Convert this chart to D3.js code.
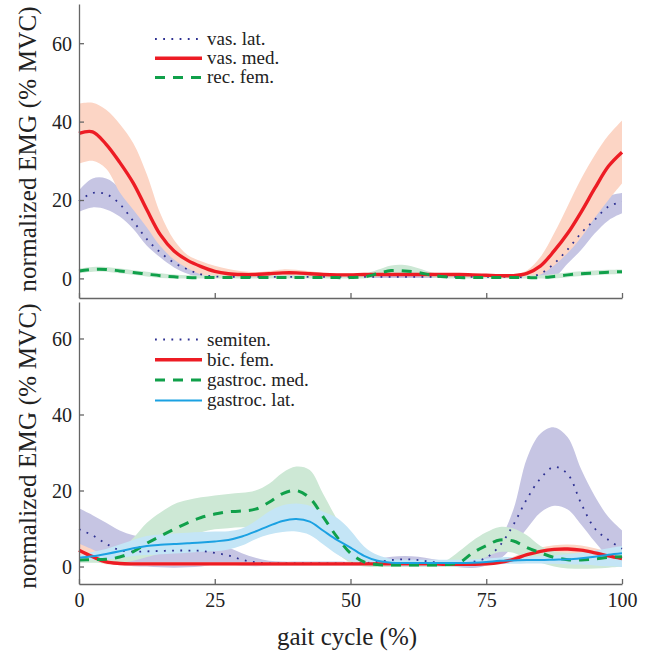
<!DOCTYPE html>
<html>
<head>
<meta charset="utf-8">
<script src="https://cdn.jsdelivr.net/npm/d3@7"></script>
<style>
  body { margin: 0; background: #fff; }
  text { font-family: "Liberation Serif", "Times New Roman", serif; fill: #222; }
</style>
</head>
<body>
<svg width="657" height="656"></svg>
<script>
// gait cycle grid, 2.5 % steps
const gait = d3.range(0, 100.01, 2.5);

// top panel: quadriceps
const vasLatMean = [19.7,21.8,21.5,19.0,14.6,10.0,6.6,4.0,2.3,1.0,0.5,0.4,0.4,0.4,0.4,0.4,0.4,0.4,0.4,0.4,0.4,0.4,0.4,0.4,0.4,0.4,0.4,0.4,0.4,0.4,0.4,0.4,0.4,0.3,1.2,3.8,7.4,11.6,15.0,18.3,19.5];
const vasLatHi   = [22.5,25.5,25.5,23.0,18.5,13.5,9.5,6.5,4.0,2.0,1.0,0.8,0.8,0.8,0.8,0.8,0.8,0.8,0.8,0.8,0.8,0.8,0.8,0.8,0.8,0.8,0.8,0.8,0.8,0.8,0.8,0.8,0.8,0.8,2.5,6.5,11.0,15.8,19.2,21.1,21.8];
const vasLatLo   = [17.0,18.1,17.6,15.8,12.6,8.3,5.3,2.8,1.2,0.3,0.2,0.1,0.1,0.1,0.1,0.1,0.1,0.1,0.1,0.1,0.1,0.1,0.1,0.1,0.1,0.1,0.1,0.1,0.1,0.1,0.1,0.1,0.1,0.1,0.1,0.3,3.8,7.3,11.5,14.8,16.6];

const vasMedMean = [37.0,37.4,34.2,29.6,24.3,17.5,11.1,7.0,4.6,3.0,1.8,1.2,1.0,1.0,1.2,1.4,1.4,1.2,1.0,0.9,0.9,1.0,1.0,1.0,1.0,1.0,1.0,1.0,1.0,0.9,0.8,0.7,0.7,1.3,3.2,7.0,11.5,17.0,23.0,28.6,32.2];
const vasMedHi   = [44.6,44.8,43.0,39.4,34.5,26.5,16.5,9.8,6.0,4.4,3.2,2.4,1.8,1.6,1.9,2.3,2.2,1.8,1.4,1.3,1.3,1.3,1.3,1.3,1.3,1.3,1.3,1.3,1.3,1.2,1.1,1.0,1.0,2.0,5.5,11.5,18.5,25.5,31.5,36.5,40.3];
const vasMedLo   = [29.3,30.0,28.0,22.0,17.5,13.0,8.2,4.8,2.6,1.0,0.6,0.6,0.6,0.6,0.7,0.8,0.8,0.7,0.6,0.6,0.6,0.6,0.6,0.6,0.6,0.6,0.6,0.6,0.6,0.5,0.4,0.3,0.3,0.4,1.0,3.3,6.5,10.5,15.5,20.0,24.2];

const recFemMean = [1.9,2.3,2.3,1.9,1.5,1.1,0.7,0.4,0.2,0.2,0.2,0.2,0.2,0.2,0.2,0.2,0.2,0.2,0.2,0.2,0.2,0.4,1.2,2.0,1.9,1.5,0.8,0.4,0.2,0.2,0.2,0.2,0.2,0.2,0.2,0.5,0.9,1.2,1.4,1.6,1.7];
const recFemHi   = [2.5,2.9,2.9,2.5,2.1,1.7,1.3,1.0,0.8,0.8,0.8,0.8,0.8,0.8,0.8,0.8,0.8,0.8,0.8,0.8,0.8,1.1,2.2,3.3,3.4,2.6,1.5,1.0,0.8,0.8,0.8,0.8,0.8,0.8,0.8,1.1,1.5,1.8,2.0,2.2,2.3];
const recFemLo   = [1.3,1.7,1.7,1.3,0.9,0.5,0.1,0.0,0.0,0.0,0.0,0.0,0.0,0.0,0.0,0.0,0.0,0.0,0.0,0.0,0.0,0.0,0.4,1.0,0.9,0.6,0.2,0.0,0.0,0.0,0.0,0.0,0.0,0.0,0.0,0.0,0.3,0.6,0.8,1.0,1.1];

// bottom panel: hamstrings and calf
const semitenMean = [9.8,8.2,6.0,4.3,3.9,4.0,4.1,4.2,4.2,4.1,3.6,2.9,1.8,1.1,0.8,0.8,0.8,0.8,0.8,0.8,0.8,0.9,1.2,1.7,1.9,1.7,1.2,0.9,0.8,1.2,2.3,5.5,11.0,17.8,23.2,26.2,24.3,16.5,10.0,7.0,4.7];
const semitenHi   = [15.3,13.5,11.5,9.5,8.2,7.5,7.3,7.3,7.3,7.0,6.3,5.0,3.5,2.3,1.5,1.3,1.3,1.3,1.3,1.3,1.3,1.5,2.0,2.6,2.8,2.6,2.0,1.5,1.3,2.0,3.0,7.0,15.0,28.5,35.0,36.6,34.0,25.5,18.5,13.0,9.5];
const semitenLo   = [4.5,3.0,1.5,0.5,0.1,0.0,-0.2,-0.3,-0.2,0.0,0.5,0.5,0.2,0.1,0.2,0.2,0.2,0.2,0.2,0.2,0.2,0.3,0.4,0.7,0.9,0.7,0.4,0.2,-0.2,-0.4,0.3,2.0,5.5,10.0,14.2,16.0,15.0,11.0,6.5,2.5,0.3];

const bicFemMean = [4.3,2.6,1.2,0.8,0.7,0.7,0.7,0.7,0.7,0.7,0.7,0.7,0.7,0.7,0.7,0.7,0.7,0.7,0.7,0.7,0.7,0.7,0.7,0.7,0.7,0.7,0.7,0.6,0.6,0.6,0.7,1.1,1.9,3.1,4.0,4.5,4.6,4.3,3.6,2.8,2.1];
const bicFemHi   = [6.0,4.5,2.5,1.3,1.1,1.1,1.1,1.1,1.1,1.1,1.1,1.1,1.1,1.1,1.1,1.1,1.1,1.1,1.1,1.1,1.1,1.1,1.1,1.1,1.1,1.1,1.1,1.0,1.0,1.0,1.1,1.6,2.6,4.0,5.0,5.6,5.8,5.5,4.8,3.9,3.0];
const bicFemLo   = [2.5,1.5,0.6,0.4,0.3,0.3,0.3,0.3,0.3,0.3,0.3,0.3,0.3,0.3,0.3,0.3,0.3,0.3,0.3,0.3,0.3,0.3,0.3,0.3,0.3,0.3,0.3,0.2,0.2,0.2,0.3,0.6,1.2,2.2,3.0,3.5,3.6,3.3,2.6,1.9,1.3];

const gMedMean = [1.7,1.8,1.9,2.5,3.9,6.1,8.0,9.8,11.5,12.9,13.8,14.4,14.6,15.1,16.9,19.2,20.0,18.0,13.0,7.8,3.5,1.2,0.5,0.4,0.4,0.4,0.4,0.5,1.0,3.6,5.5,7.0,6.7,5.0,3.6,2.4,1.8,1.7,2.0,2.4,2.6];
const gMedHi   = [2.5,2.7,3.0,4.5,7.5,11.5,14.2,16.4,17.5,18.2,18.7,19.1,19.4,20.0,21.8,24.7,26.3,25.4,19.0,12.5,7.0,2.5,1.3,1.0,1.0,1.0,1.1,1.5,4.0,6.8,9.0,10.4,10.0,8.2,5.4,4.0,3.6,3.6,3.8,4.0,4.2];
const gMedLo   = [1.0,1.0,1.0,1.0,1.5,2.5,3.5,5.5,7.5,9.0,9.8,10.1,10.3,10.5,12.0,14.0,14.5,12.0,7.5,3.5,1.0,0.0,-0.1,-0.1,-0.1,-0.1,-0.1,-0.1,0.0,1.0,2.5,3.8,3.6,2.0,1.0,0.0,-0.5,-0.6,-0.5,-0.3,0.0];

const gLatMean = [2.3,2.7,3.3,4.0,4.8,5.4,5.7,5.9,6.1,6.3,6.6,7.0,7.9,9.2,10.7,12.0,12.5,11.8,9.4,7.0,5.0,2.8,1.5,1.0,0.9,0.9,0.9,0.9,0.9,1.0,1.2,1.5,1.6,1.7,1.7,1.8,1.9,2.2,2.6,3.1,3.5];
const gLatHi   = [2.9,3.8,4.6,5.8,7.0,8.0,8.4,8.7,8.9,9.1,9.2,9.3,10.0,12.0,14.5,16.1,16.6,16.0,14.4,12.8,9.5,5.3,3.0,2.0,1.8,1.8,1.8,1.8,1.8,1.9,2.1,2.4,2.5,2.6,2.7,2.9,3.2,3.6,4.2,4.8,5.4];
const gLatLo   = [1.7,1.7,1.8,2.3,2.8,3.0,3.2,3.4,3.6,3.9,4.0,4.5,5.5,7.2,8.4,9.1,9.2,8.3,5.8,3.2,1.5,0.7,0.4,0.2,0.1,0.1,0.1,0.1,0.1,0.1,0.3,0.6,0.7,0.8,0.8,0.7,0.6,0.5,0.3,0.1,-0.1];

const xTicks = [0, 25, 50, 75, 100];
const yTicks = [0, 20, 40, 60];

const styles = {
  blue:  { line: "#2e3192", band: "#c6c5e3", width: 1.8, dash: "1.8 6.4" },
  red:   { line: "#ed1c24", band: "#fcd5c5", width: 3.4, dash: null },
  green: { line: "#10a04a", band: "#cde8d5", width: 3, dash: "10 8" },
  cyan:  { line: "#1ba1e2", band: "#c4e5f6", width: 2, dash: null }
};

const panels = [
  { y0: 298, y1: 4, domain: [-5, 70], labels: false, labelY: 149, legendY: 39, legendStep: 19.2,
    series: [
      { name: "vas. lat.", style: "blue", mean: vasLatMean, hi: vasLatHi, lo: vasLatLo },
      { name: "vas. med.", style: "red", mean: vasMedMean, hi: vasMedHi, lo: vasMedLo },
      { name: "rec. fem.", style: "green", mean: recFemMean, hi: recFemHi, lo: recFemLo }
    ] },
  { y0: 584, y1: 302, domain: [-4.6, 69.6], labels: true, labelY: 446, legendY: 339.5, legendStep: 20.3,
    series: [
      { name: "semiten.", style: "blue", mean: semitenMean, hi: semitenHi, lo: semitenLo },
      { name: "bic. fem.", style: "red", mean: bicFemMean, hi: bicFemHi, lo: bicFemLo },
      { name: "gastroc. med.", style: "green", mean: gMedMean, hi: gMedHi, lo: gMedLo },
      { name: "gastroc. lat.", style: "cyan", mean: gLatMean, hi: gLatHi, lo: gLatLo }
    ] }
];

const svg = d3.select("svg");
const x = d3.scaleLinear().domain([0, 100]).range([79, 622]);

panels.forEach(p => {
  const y = d3.scaleLinear().domain(p.domain).range([p.y0, p.y1]);
  const g = svg.append("g");

  const area = d3.area()
    .x((d, i) => x(gait[i]))
    .y0(d => y(d[0]))
    .y1(d => y(d[1]))
    .curve(d3.curveCatmullRom);
  const line = d3.line()
    .x((d, i) => x(gait[i]))
    .y(d => y(d))
    .curve(d3.curveCatmullRom);

  // bands first, in legend order
  p.series.forEach(s => {
    g.append("path")
      .datum(s.lo.map((v, i) => [v, s.hi[i]]))
      .attr("fill", styles[s.style].band)
      .attr("d", area);
  });
  p.series.forEach(s => {
    const st = styles[s.style];
    g.append("path")
      .datum(s.mean)
      .attr("fill", "none")
      .attr("stroke", st.line)
      .attr("stroke-width", st.width)
      .attr("stroke-dasharray", st.dash)
      .attr("d", line);
  });

  // axes
  const xAxis = d3.axisBottom(x).tickValues(xTicks).tickSize(-5).tickSizeOuter(0).tickPadding(9);
  if (!p.labels) xAxis.tickFormat("");
  const gx = g.append("g").attr("transform", `translate(0,${p.y0})`).call(xAxis);
  const gy = g.append("g").attr("transform", "translate(79,0)")
    .call(d3.axisLeft(y).tickValues(yTicks).tickSize(-5).tickSizeOuter(0).tickPadding(7));
  [gx, gy].forEach(a => {
    a.attr("font-family", "Liberation Serif, serif").attr("font-size", 20);
    a.selectAll("path, line").attr("stroke", "#666").attr("stroke-width", 1.3);
    a.selectAll("text").attr("fill", "#222");
  });
  gy.selectAll("text").attr("dy", "0.34em");

  svg.append("text")
    .attr("transform", `translate(36,${p.labelY}) rotate(-90)`)
    .attr("text-anchor", "middle")
    .attr("font-size", 25)
    .attr("letter-spacing", 0.2)
    .text("normalized EMG (% MVC)");

  // legend
  const lg = svg.append("g");
  p.series.forEach((s, i) => {
    const st = styles[s.style];
    const ly = p.legendY + i * p.legendStep;
    lg.append("line")
      .attr("x1", 155).attr("x2", 202).attr("y1", ly).attr("y2", ly)
      .attr("stroke", st.line)
      .attr("stroke-width", st.width)
      .attr("stroke-dasharray", st.dash);
    lg.append("text")
      .attr("x", 207).attr("y", ly + 6)
      .attr("font-size", 19)
      .text(s.name);
  });
});

svg.append("text")
  .attr("x", 347).attr("y", 645)
  .attr("text-anchor", "middle")
  .attr("font-size", 25)
  .text("gait cycle (%)");
</script>
</body>
</html>
